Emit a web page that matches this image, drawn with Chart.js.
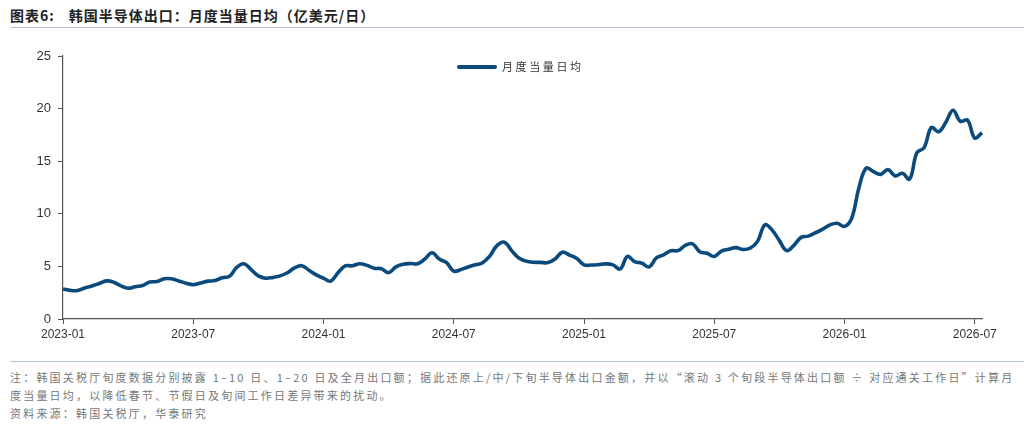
<!DOCTYPE html>
<html>
<head>
<meta charset="utf-8">
<script src="https://cdn.jsdelivr.net/npm/chart.js@4.4.1/dist/chart.umd.min.js"></script>
<style>
  html, body { margin: 0; padding: 0; background: #fff; }
  body { width: 1024px; height: 428px; position: relative; overflow: hidden; font-family: "Noto Sans CJK SC", sans-serif; }
  #title { position: absolute; left: 10px; top: 5px; font-size: 14px; font-weight: bold; color: #222; letter-spacing: 1px; white-space: nowrap; }
  #title .num { margin-right: 14px; }
  .rule { position: absolute; left: 10px; right: 0; height: 0; border-top: 1.5px solid #b4c3d3; }
  #box { position: absolute; left: 0; top: 40px; width: 1024px; height: 305px; }
  #legend { position: absolute; left: 457px; top: 58px; font-size: 11px; color: #333; letter-spacing: 2.6px; white-space: nowrap; }
  #legend .swatch { display: inline-block; width: 40px; height: 4px; background: #0b4a7d; border-radius: 2px; vertical-align: middle; margin-right: 5px; position: relative; top: -1px; }
  #notes { position: absolute; left: 10px; top: 368px; font-size: 11px; color: #777; line-height: 18px; white-space: nowrap; letter-spacing: 2.2px; }
</style>
</head>
<body>
<div id="title"><span class="num">图表6:</span>韩国半导体出口：月度当量日均（亿美元/日）</div>
<div class="rule" style="top:27px"></div>
<div id="box"><canvas id="c"></canvas></div>
<div id="legend"><span class="swatch"></span>月度当量日均</div>
<div class="rule" style="top:361px"></div>
<div id="notes">注：韩国关税厅旬度数据分别披露 1–10 日、1–20 日及全月出口额；据此还原上/中/下旬半导体出口金额，并以“滚动 3 个旬段半导体出口额 ÷ 对应通关工作日”计算月<br>度当量日均，以降低春节、节假日及旬间工作日差异带来的扰动。<br>资料来源：韩国关税厅，华泰研究</div>
<script>
// 旬度序列：2023-01 上旬起，每月三个点
const startYear = 2023;
const dekads = ['上旬', '中旬', '下旬'];
const pointCount = 128;

// 月度当量日均（亿美元/日）
const dailyAvg = [
  2.85, 2.72, 2.71, 2.95, 3.14, 3.38, 3.62, 3.50, 3.15, 2.92,
  3.07, 3.18, 3.51, 3.56, 3.82, 3.82, 3.62, 3.40, 3.26, 3.42,
  3.60, 3.65, 3.93, 4.05, 4.90, 5.25, 4.70, 4.10, 3.88, 3.95,
  4.10, 4.40, 4.85, 5.07, 4.63, 4.20, 3.88, 3.60, 4.40, 5.05,
  5.06, 5.25, 5.10, 4.82, 4.78, 4.40, 4.95, 5.20, 5.27, 5.25,
  5.70, 6.30, 5.70, 5.35, 4.55, 4.70, 4.95, 5.15, 5.35, 6.00,
  7.00, 7.30, 6.50, 5.80, 5.50, 5.39, 5.38, 5.36, 5.70, 6.35,
  6.08, 5.75, 5.15, 5.13, 5.17, 5.24, 5.15, 4.75, 5.95, 5.45,
  5.30, 4.95, 5.80, 6.10, 6.48, 6.50, 7.00, 7.15, 6.40, 6.25,
  5.95, 6.46, 6.63, 6.78, 6.60, 6.75, 7.40, 8.95, 8.45, 7.45,
  6.50, 7.00, 7.76, 7.88, 8.20, 8.55, 8.95, 9.10, 8.80, 9.60,
  12.50, 14.35, 14.00, 13.75, 14.20, 13.60, 13.85, 13.30, 15.80, 16.30,
  18.20, 17.80, 18.70, 19.85, 18.80, 18.90, 17.20, 17.71
];

const yTicks = [0, 5, 10, 15, 20, 25];

const labels = [];
for (let i = 0; i < pointCount; i++) {
  const m = Math.floor(i / 3);
  const y = startYear + Math.floor(m / 12);
  const mm = String(m % 12 + 1).padStart(2, '0');
  labels.push(y + '-' + mm + dekads[i % 3]);
}

const lineColor = '#0b4a7d';
const axisColor = '#555';
const tickFont = { family: '"Liberation Sans", Arial, sans-serif' };

new Chart(document.getElementById('c'), {
  type: 'line',
  data: {
    labels: labels,
    datasets: [{
      label: '月度当量日均',
      data: dailyAvg,
      borderColor: lineColor,
      borderWidth: 3.6,
      tension: 0.4,
      pointRadius: 0,
      fill: false
    }]
  },
  options: {
    responsive: true,
    maintainAspectRatio: false,
    animation: false,
    layout: { padding: { left: 23, right: 42, top: 16, bottom: 0 } },
    plugins: { legend: { display: false }, tooltip: { enabled: false } },
    scales: {
      x: {
        type: 'category',
        offset: false,
        afterFit: (axis) => { axis.height = 26; },
        grid: { drawOnChartArea: false, drawTicks: true, tickLength: 5, color: axisColor, lineWidth: 1 },
        border: { display: true, color: axisColor, width: 1.2 },
        ticks: {
          autoSkip: false,
          maxRotation: 0,
          padding: 3,
          color: '#333',
          font: { ...tickFont, size: 12 },
          callback: function (value, index) {
            return index % 18 === 0 ? labels[index].slice(0, 7) : null;
          }
        }
      },
      y: {
        min: 0,
        max: 25,
        afterFit: (axis) => { axis.width = 40; },
        afterBuildTicks: (axis) => { axis.ticks = yTicks.map(v => ({ value: v })); },
        grid: { drawOnChartArea: false, drawTicks: true, tickLength: 5, color: axisColor, lineWidth: 1 },
        border: { display: true, color: axisColor, width: 1.2 },
        ticks: {
          padding: 7,
          color: '#333',
          font: { ...tickFont, size: 13 }
        }
      }
    }
  }
});
</script>
</body>
</html>
